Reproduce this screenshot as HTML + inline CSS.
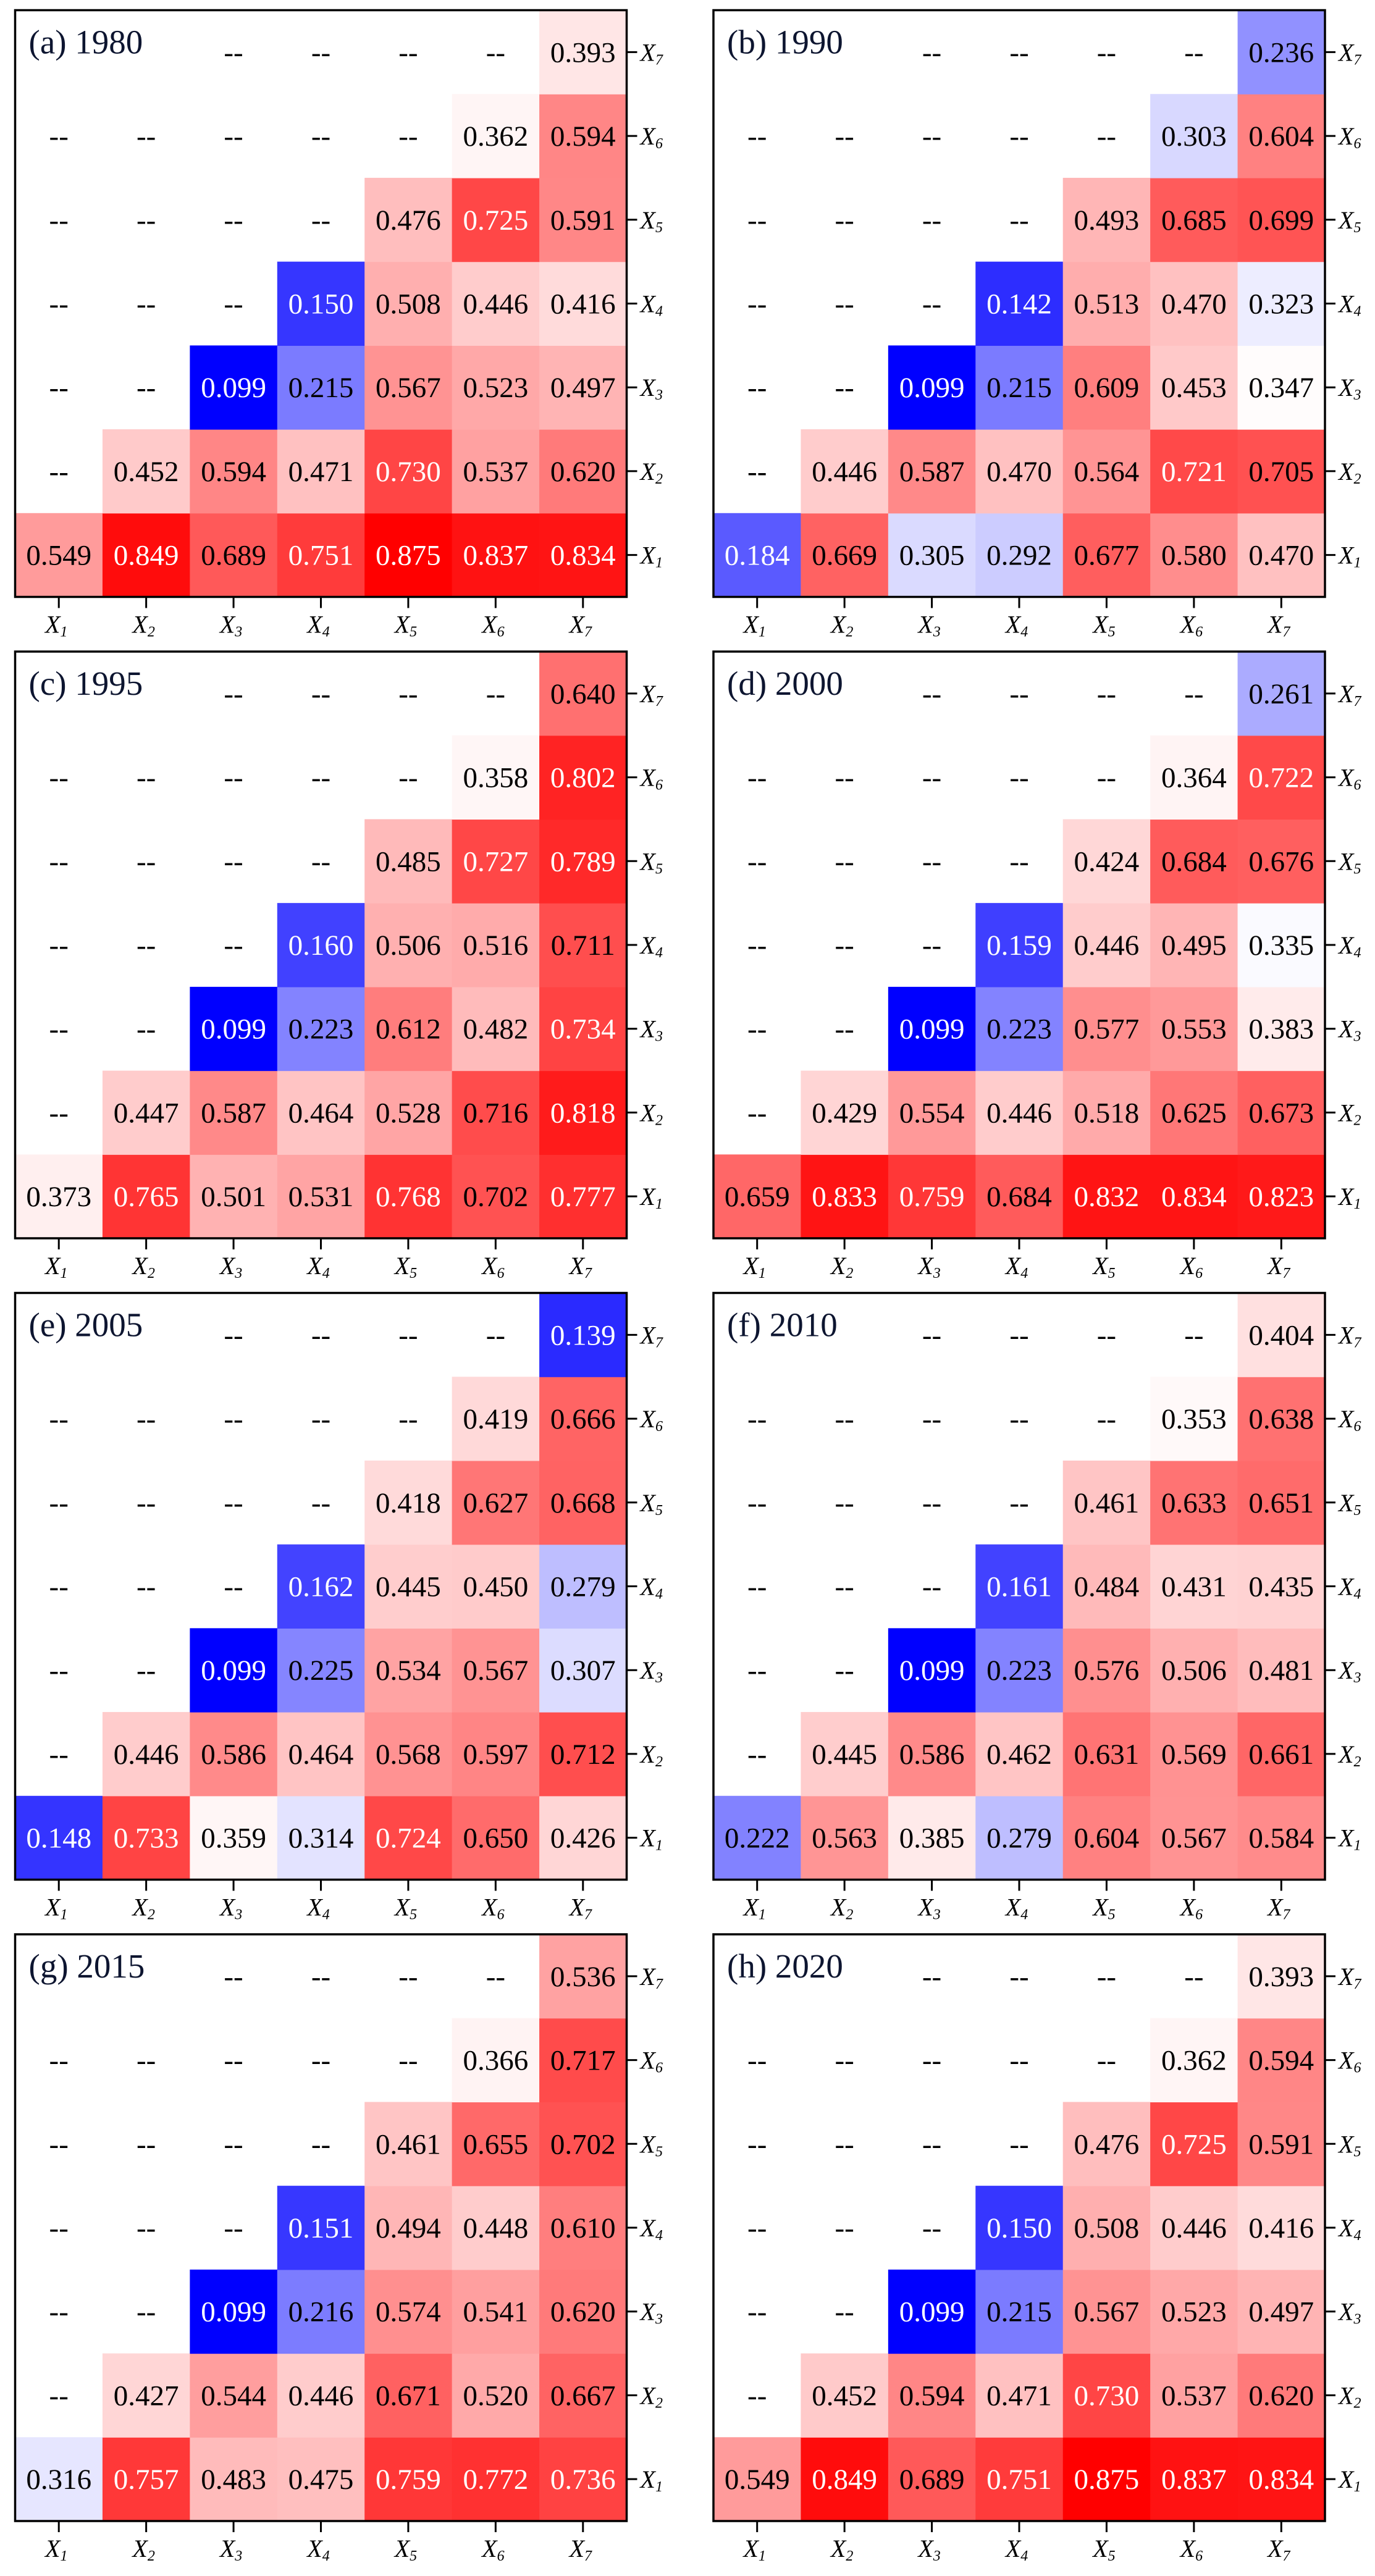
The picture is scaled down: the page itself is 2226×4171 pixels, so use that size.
<!DOCTYPE html>
<html><head><meta charset="utf-8">
<style>
html,body{margin:0;padding:0;background:#fff;}
svg{display:block;}
svg text{font-family:"Liberation Serif","Times New Roman",serif;}
</style></head>
<body>
<svg id="fig" xmlns="http://www.w3.org/2000/svg" width="2226" height="4171" viewBox="0 0 2226 4171"></svg>
<script>
// Panel titles
const titles = ["(a) 1980","(b) 1990","(c) 1995","(d) 2000","(e) 2005","(f) 2010","(g) 2015","(h) 2020"];
// Axis tick labels (index 1..7)
const ticks = ["1","2","3","4","5","6","7"];
// Upper-triangular values per panel; row k (X1..X7) holds columns k..7
const dataA = [[0.549,0.849,0.689,0.751,0.875,0.837,0.834],[0.452,0.594,0.471,0.730,0.537,0.620],[0.099,0.215,0.567,0.523,0.497],[0.150,0.508,0.446,0.416],[0.476,0.725,0.591],[0.362,0.594],[0.393]];
const dataB = [[0.184,0.669,0.305,0.292,0.677,0.580,0.470],[0.446,0.587,0.470,0.564,0.721,0.705],[0.099,0.215,0.609,0.453,0.347],[0.142,0.513,0.470,0.323],[0.493,0.685,0.699],[0.303,0.604],[0.236]];
const dataC = [[0.373,0.765,0.501,0.531,0.768,0.702,0.777],[0.447,0.587,0.464,0.528,0.716,0.818],[0.099,0.223,0.612,0.482,0.734],[0.160,0.506,0.516,0.711],[0.485,0.727,0.789],[0.358,0.802],[0.640]];
const dataD = [[0.659,0.833,0.759,0.684,0.832,0.834,0.823],[0.429,0.554,0.446,0.518,0.625,0.673],[0.099,0.223,0.577,0.553,0.383],[0.159,0.446,0.495,0.335],[0.424,0.684,0.676],[0.364,0.722],[0.261]];
const dataE = [[0.148,0.733,0.359,0.314,0.724,0.650,0.426],[0.446,0.586,0.464,0.568,0.597,0.712],[0.099,0.225,0.534,0.567,0.307],[0.162,0.445,0.450,0.279],[0.418,0.627,0.668],[0.419,0.666],[0.139]];
const dataF = [[0.222,0.563,0.385,0.279,0.604,0.567,0.584],[0.445,0.586,0.462,0.631,0.569,0.661],[0.099,0.223,0.576,0.506,0.481],[0.161,0.484,0.431,0.435],[0.461,0.633,0.651],[0.353,0.638],[0.404]];
const dataG = [[0.316,0.757,0.483,0.475,0.759,0.772,0.736],[0.427,0.544,0.446,0.671,0.520,0.667],[0.099,0.216,0.574,0.541,0.620],[0.151,0.494,0.448,0.610],[0.461,0.655,0.702],[0.366,0.717],[0.536]];
const dataH = [[0.549,0.849,0.689,0.751,0.875,0.837,0.834],[0.452,0.594,0.471,0.730,0.537,0.620],[0.099,0.215,0.567,0.523,0.497],[0.150,0.508,0.446,0.416],[0.476,0.725,0.591],[0.362,0.594],[0.393]];
const panels = [dataA,dataB,dataC,dataD,dataE,dataF,dataG,dataH];
const vmin = 0.099, vcenter = 0.34, vmax = 0.875;

const NS = "http://www.w3.org/2000/svg";
const svg = document.getElementById("fig");
function mk(tag, attrs, parent){
  const e = document.createElementNS(NS, tag);
  for (const k in attrs) e.setAttribute(k, attrs[k]);
  parent.appendChild(e);
  return e;
}
function color(v){
  let r,g,b;
  if (v <= vcenter){
    const t = Math.max(0, Math.min(1, (v - vmin)/(vcenter - vmin)));
    r = g = Math.round(255*t); b = 255;
  } else {
    const t = Math.max(0, Math.min(1, (v - vcenter)/(vmax - vcenter)));
    r = 255; g = b = Math.round(255*(1-t));
  }
  return `rgb(${r},${g},${b})`;
}
const W = 990, H = 950;
const lefts = [24.5, 1155];
const tops = [16.5, 1055, 2093.5, 3132];

panels.forEach((data, p) => {
  const x0 = lefts[p % 2], y0 = tops[Math.floor(p/2)];
  const cw = W/7, ch = H/7;
  const xc = j => x0 + (j + 0.5)*cw;
  const yc = i => y0 + H - (i + 0.5)*ch;
  const g = mk("g", {}, svg);
  
  

  for (let i = 0; i < 7; i++){
    for (let j = 0; j < 7; j++){
      if (j >= i){
        const v = data[i][j - i];
        const r = mk("rect", {x: x0 + j*cw, y: y0 + H - (i+1)*ch, width: cw + 0.6, height: ch + 0.6, fill: color(v)}, g);
        
        
        const t = mk("text", {x: xc(j), y: yc(i) + 16, "text-anchor": "middle", "font-size": 47, fill: (v >= 0.72 || v < 0.2) ? "#fff" : "#000"}, g);
        t.textContent = v.toFixed(3);
        
        
      } else if (!(i === 6 && j < 2)){
        const t = mk("text", {x: xc(j), y: yc(i) + 16, "text-anchor": "middle", "font-size": 47, fill: "#000"}, g);
        t.textContent = "--";
        
        
      }
    }
  }
  const fr = mk("rect", {x: x0, y: y0, width: W, height: H, fill: "none", stroke: "#000", "stroke-width": 3.5}, g);
  
  

  const tt = mk("text", {x: x0 + 22, y: y0 + 70, "font-size": 55, fill: "#0d1530"}, g);
  tt.textContent = titles[p];
  
  

  for (let k = 0; k < 7; k++){
    mk("line", {x1: xc(k), x2: xc(k), y1: y0 + H, y2: y0 + H + 18, stroke: "#000", "stroke-width": 3}, g);
    const bl = mk("text", {x: xc(k) - 4, y: y0 + H + 58, "text-anchor": "middle", "font-size": 40, "font-style": "italic", fill: "#000"}, g);
    
    
    bl.innerHTML = 'X<tspan font-size="24" dy="6">' + ticks[k] + '</tspan>';
    mk("line", {x1: x0 + W, x2: x0 + W + 17, y1: yc(k), y2: yc(k), stroke: "#000", "stroke-width": 3}, g);
    const rl = mk("text", {x: x0 + W + 22, y: yc(k) + 14, "font-size": 40, "font-style": "italic", fill: "#000"}, g);
    
    
    rl.innerHTML = 'X<tspan font-size="24" dy="6">' + ticks[k] + '</tspan>';
  }
});
</script>
</body></html>
